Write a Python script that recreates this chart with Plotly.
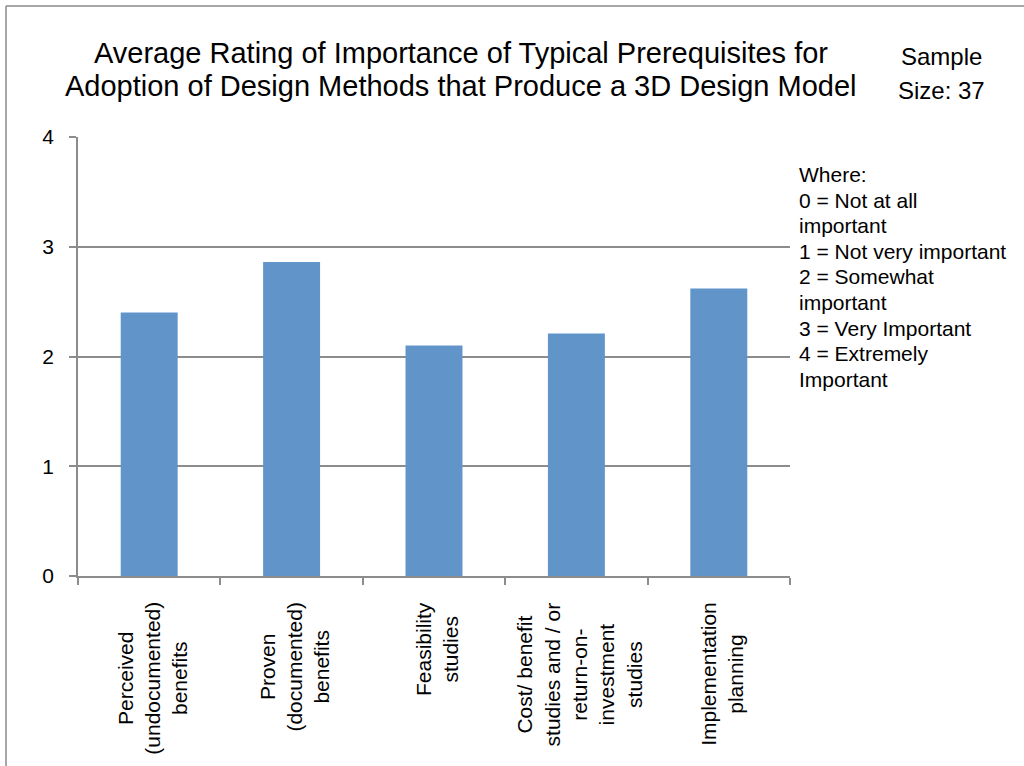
import plotly.graph_objects as go

# Survey results: average importance rating per prerequisite
categories = [
    "Perceived<br>(undocumented)<br>benefits",
    "Proven<br>(documented)<br>benefits",
    "Feasibility<br>studies",
    "Cost/ benefit<br>studies and / or<br>return-on-<br>investment<br>studies",
    "Implementation<br>planning",
]
ratings = [2.40, 2.86, 2.10, 2.21, 2.62]
y_ticks = [0, 1, 2, 3, 4]

title_lines = [
    "Average Rating of Importance of Typical Prerequisites for",
    "Adoption of Design Methods that Produce a 3D Design Model",
]
sample_lines = ["Sample", "Size: 37"]
scale_lines = [
    "Where:",
    "0 = Not at all",
    "important",
    "1 = Not very important",
    "2 = Somewhat",
    "important",
    "3 = Very Important",
    "4 = Extremely",
    "Important",
]

FONT = "Liberation Sans, Arial, sans-serif"
GRID = "#8c8c8c"
W, H = 1024, 766
L, R, T, B = 78, 234, 137, 190
PW, PH = W - L - R, H - T - B


def px_x(px):
    return (px - L) / PW


def px_y(py):
    return (H - B - py) / PH


fig = go.Figure(
    go.Bar(
        x=list(range(len(categories))),
        y=ratings,
        width=0.4,
        marker=dict(color="#6195c9", line=dict(width=0)),
        hoverinfo="y",
    )
)

annotations = []
# category labels, rotated, lines centred under each bar
for i, cat in enumerate(categories):
    annotations.append(dict(
        x=i, y=0, xref="x", yref="y", text=cat, showarrow=False,
        textangle=-90, xanchor="center", yanchor="top", yshift=-24,
        xshift=3, align="center",
        font=dict(family=FONT, size=21, color="black"),
    ))

for text, py in zip(title_lines, [52.5, 85.5]):
    annotations.append(dict(
        x=px_x(461), y=px_y(py), xref="paper", yref="paper", text=text,
        showarrow=False, xanchor="center", yanchor="middle",
        font=dict(family=FONT, size=29, color="black"),
    ))

for text, py in zip(sample_lines, [57, 90]):
    annotations.append(dict(
        x=px_x(941), y=px_y(py), xref="paper", yref="paper", text=text,
        showarrow=False, xanchor="center", yanchor="middle",
        font=dict(family=FONT, size=24, color="black"),
    ))

for k, text in enumerate(scale_lines):
    annotations.append(dict(
        x=px_x(797), y=px_y(174.5 + 25.6 * k), xref="paper", yref="paper",
        text=text, showarrow=False, xanchor="left", yanchor="middle",
        font=dict(family=FONT, size=21, color="black"),
    ))

# outer frame of the chart area
shapes = [
    dict(type="line", xref="paper", yref="paper",
         x0=px_x(6), x1=px_x(6), y0=px_y(775), y1=px_y(6),
         line=dict(color="#8a8a8a", width=1.5)),
    dict(type="line", xref="paper", yref="paper",
         x0=px_x(6), x1=px_x(1035), y0=px_y(6), y1=px_y(6),
         line=dict(color="#8a8a8a", width=1.5)),
]

fig.update_layout(
    width=W, height=H,
    margin=dict(l=L, r=R, t=T, b=B, pad=0),
    paper_bgcolor="white", plot_bgcolor="white",
    showlegend=False,
    annotations=annotations,
    shapes=shapes,
    font=dict(family=FONT, size=21, color="black"),
)

fig.update_xaxes(
    type="linear", range=[-0.5, len(categories) - 0.5],
    tickvals=[i - 0.5 for i in range(len(categories) + 1)],
    showticklabels=False, ticks="outside", ticklen=7, tickwidth=1.5,
    tickcolor=GRID, showgrid=False, zeroline=False,
    showline=True, linecolor=GRID, linewidth=1.5, fixedrange=True,
)
fig.update_yaxes(
    range=[0, 4], tickvals=y_ticks, ticktext=[str(v) for v in y_ticks],
    ticks="outside", ticklen=7, tickwidth=1.5, tickcolor=GRID,
    ticklabelstandoff=11,
    showgrid=True, gridcolor=GRID, gridwidth=1.5, zeroline=False,
    showline=True, linecolor=GRID, linewidth=1.5,
    tickfont=dict(family=FONT, size=21, color="black"), fixedrange=True,
)

fig.write_html("out.html", config={"displayModeBar": False})
